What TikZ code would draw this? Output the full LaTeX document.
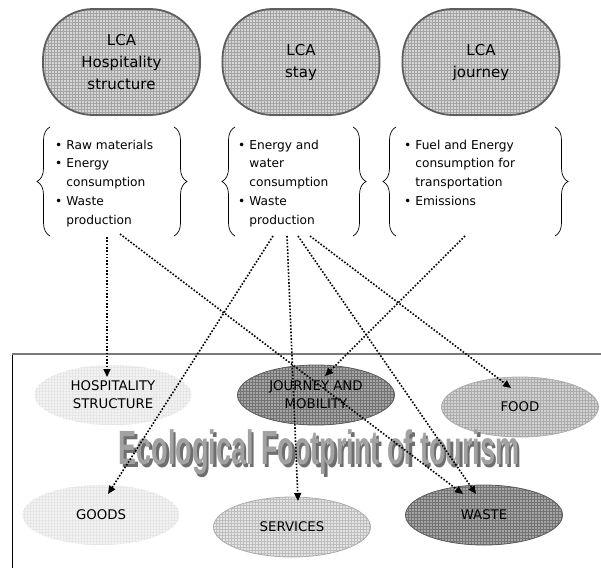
\documentclass[tikz,border=0pt]{standalone}
\usepackage{fontspec}
\usepackage{graphicx}
\setmainfont{DejaVu Sans}
\newfontfamily\titlefont{Liberation Sans}[BoldFont={* Bold}]
\usetikzlibrary{shapes.geometric,patterns,arrows.meta,decorations.pathreplacing}

\definecolor{ovalfill}{HTML}{D6D6D6}
\definecolor{ovalgrid}{HTML}{A4A4A4}
\definecolor{ovalline}{HTML}{5E5E5E}
\definecolor{palefill}{HTML}{F3F3F3}
\definecolor{palegrid}{HTML}{E6E6E6}
\definecolor{midfill}{HTML}{D2D2D2}
\definecolor{midgrid}{HTML}{ABABAB}
\definecolor{midline}{HTML}{ADADAD}
\definecolor{lightfill}{HTML}{E4E4E4}
\definecolor{lightgrid}{HTML}{BDBDBD}
\definecolor{darkfill}{HTML}{A6A6A6}
\definecolor{darkgrid}{HTML}{737373}
\definecolor{darkline}{HTML}{5A5A5A}
\definecolor{frameline}{HTML}{7A7A7A}
\definecolor{titleshade}{HTML}{6E6E6E}
\definecolor{titlebody}{HTML}{A2A2A2}

\newcommand{\bitems}[1]{\fontsize{12.2}{18.8}\selectfont
  \begin{tabular}[t]{@{}l@{\hspace{4pt}}l@{}}#1\end{tabular}}
\newcommand{\titleword}{\resizebox*{400pt}{45pt}{\titlefont\bfseries Ecological Footprint of tourism}}

\begin{document}
\begin{tikzpicture}[x=1pt,y=-1pt,
  lcabox/.style={shape=rectangle, rounded corners=50pt,
    minimum width=157pt, minimum height=106pt, inner sep=0pt,
    preaction={fill=ovalfill}, pattern=grid, pattern color=ovalgrid,
    draw=ovalline, line width=1.8pt, align=center,
    font=\fontsize{15}{22}\selectfont},
  cloud/.style={shape=ellipse, minimum width=157pt, minimum height=60pt,
    inner sep=0pt, align=center, font=\fontsize{13.3}{18}\selectfont},
  palecloud/.style={cloud, preaction={fill=palefill}, pattern=grid, pattern color=palegrid},
  midcloud/.style={cloud, preaction={fill=midfill}, pattern=grid, pattern color=midgrid,
    draw=midline, line width=0.8pt},
  lightcloud/.style={cloud, preaction={fill=lightfill}, pattern=grid, pattern color=lightgrid,
    draw=midline, line width=0.8pt},
  darkcloud/.style={cloud, preaction={fill=darkfill}, pattern=grid, pattern color=darkgrid,
    draw=darkline, line width=0.8pt},
  itembox/.style={anchor=base west, inner sep=0pt},
  leftbrace/.style={draw, line width=0.7pt, decorate,
    decoration={brace, amplitude=13pt, aspect=0.5}},
  flow/.style={draw, line width=1.6pt, dash pattern=on 1.6pt off 1.7pt,
    -{Triangle[width=7pt,length=8pt]}},
]
\useasboundingbox (0,0) rectangle (601,568);

% Life-cycle assessment blocks
\node[lcabox] (lcaH) at (121.5,62) {LCA\\Hospitality\\structure};
\node[lcabox] (lcaS) at (301,62) {LCA\\stay};
\node[lcabox] (lcaJ) at (481,62) {LCA\\journey};

% Inventory lists
\node[itembox] (listH) at (55,149) {\bitems{%
  • & Raw materials\\ • & Energy\\ & consumption\\ • & Waste\\ & production}};
\node[itembox] (listS) at (238,149) {\bitems{%
  • & Energy and\\ & water\\ & consumption\\ • & Waste\\ & production}};
\node[itembox] (listJ) at (404,149) {\bitems{%
  • & Fuel and Energy\\ & consumption for\\ & transportation\\ • & Emissions}};

% Braces around the lists
\draw[leftbrace] (50,236) -- (50,127);
\draw[leftbrace] (174,127) -- (174,236);
\draw[leftbrace] (235,236) -- (235,127);
\draw[leftbrace] (353,127) -- (353,236);
\draw[leftbrace] (396,236) -- (396,127);
\draw[leftbrace] (555,127) -- (555,236);

% Footprint frame
\draw[black, line width=0.8pt] (12,354) -- (12,568);
\draw[frameline, line width=1.4pt] (12,354) -- (601,354);

% Footprint components
\node[palecloud]  (hosp)  at (113,395) {HOSPITALITY\\STRUCTURE};
\node[darkcloud]  (jour)  at (316,395) {JOURNEY AND\\MOBILITY};
\node[midcloud]   (food)  at (520,407) {FOOD};
\node[palecloud]  (goods) at (101,515) {GOODS};
\node[lightcloud] (serv)  at (292,527) {SERVICES};
\node[darkcloud]  (waste) at (484,515) {WASTE};

% Title lettering with its drop shadow set in the same box
\node[inner sep=0pt] (title) at (319,453.5)
  {\rlap{\hspace{2.5pt}\raisebox{-2.5pt}{\textcolor{titleshade}{\titleword}}}%
   \textcolor{titlebody}{\titleword}};

% Connector end points
\coordinate (hA) at (107,237);
\coordinate (hB) at (120,234);
\coordinate (sA) at (273,236);
\coordinate (sB) at (287,236);
\coordinate (sC) at (298,236);
\coordinate (sD) at (310,236);
\coordinate (jA) at (465,236);
\coordinate (hospIn)  at (107,377);
\coordinate (wasteInA) at (463,494);
\coordinate (wasteInB) at (476,494);
\coordinate (goodsIn) at (108,494);
\coordinate (servIn)  at (298,501);
\coordinate (foodIn)  at (511,388);
\coordinate (jourIn)  at (325,376);

% Flows from inventories to footprint components
\draw[flow] (hA) -- (hospIn);
\draw[flow] (hB) -- (wasteInA);
\draw[flow] (sA) -- (goodsIn);
\draw[flow] (sB) -- (servIn);
\draw[flow] (sC) -- (wasteInB);
\draw[flow] (sD) -- (foodIn);
\draw[flow] (jA) -- (jourIn);
\end{tikzpicture}
\end{document}
